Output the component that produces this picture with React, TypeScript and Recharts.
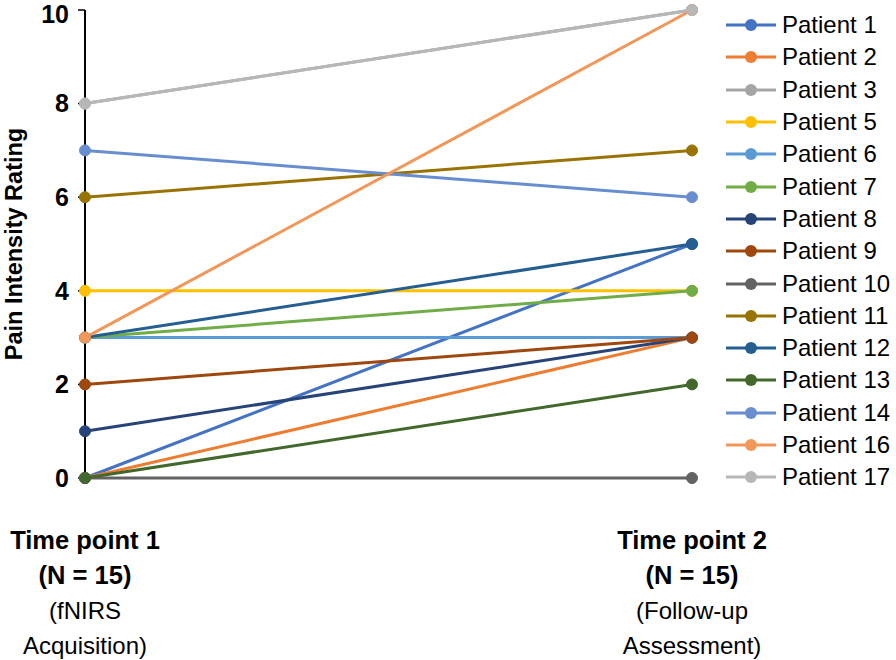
import { Label, Legend, Line, LineChart, XAxis, YAxis } from "recharts";

const timePoints = ["Time point 1", "Time point 2"];
const timeLabels = [
  ["Time point 1", "(N = 15)", "(fNIRS", "Acquisition)"],
  ["Time point 2", "(N = 15)", "(Follow-up", "Assessment)"],
];
const patients = [
  "Patient 1", "Patient 2", "Patient 3", "Patient 5", "Patient 6",
  "Patient 7", "Patient 8", "Patient 9", "Patient 10", "Patient 11",
  "Patient 12", "Patient 13", "Patient 14", "Patient 16", "Patient 17",
];
const timePoint1 = [0, 0, 8, 4, 3, 3, 1, 2, 0, 6, 3, 0, 7, 3, 8];
const timePoint2 = [5, 3, 10, 4, 3, 4, 3, 3, 0, 7, 5, 2, 6, 10, 10];
const yTicks = [0, 2, 4, 6, 8, 10];

const colors = [
  "#4472C4", "#ED7D31", "#A5A5A5", "#FFC000", "#5B9BD5",
  "#70AD47", "#264478", "#9E480E", "#636363", "#997300",
  "#255E91", "#43682B", "#698ED0", "#F1975A", "#B7B7B7",
];

const FONT = "'Liberation Sans', Arial, sans-serif";

// one row per time point, one key per patient
const data = timePoints.map((t, i) => {
  const row: Record<string, string | number> = { time: t };
  const vals = i === 0 ? timePoint1 : timePoint2;
  patients.forEach((p, j) => {
    row[p] = vals[j];
  });
  return row;
});

const TimeTick = (props: any) => {
  const { x, y, payload } = props;
  const lines = timeLabels[payload.index] || [payload.value];
  return (
    <text x={x} y={y + 71} textAnchor="middle" fontSize={25} fill="#000" fontFamily={FONT}>
      {lines.map((l, i) => (
        <tspan
          key={i}
          x={x}
          dy={i === 0 ? 0 : 35}
          fontWeight={i < 2 ? "bold" : "normal"}
          fontSize={i < 2 ? 25.5 : 24}
        >
          {l}
        </tspan>
      ))}
    </text>
  );
};

// legend keeps the series order (recharts would sort by name)
const PatientLegend = () => (
  <div style={{ fontFamily: FONT }}>
    {patients.map((p, i) => (
      <div
        key={p}
        style={{ display: "flex", alignItems: "center", height: 32.3, whiteSpace: "nowrap" }}
      >
        <svg width={54} height={20} style={{ marginRight: 4 }}>
          <line x1={2} y1={10} x2={52} y2={10} stroke={colors[i]} strokeWidth={3} />
          <circle cx={27} cy={10} r={6} fill={colors[i]} />
        </svg>
        <span style={{ fontSize: 24, color: "#000", lineHeight: "24px" }}>{p}</span>
      </div>
    ))}
  </div>
);

export default function App() {
  return (
    <div style={{ position: "absolute", left: 0, top: 0, background: "#fff", fontFamily: FONT }}>
      <LineChart
        width={896}
        height={660}
        data={data}
        margin={{ top: 10, right: 204, left: 0, bottom: 7 }}
      >
        <XAxis
          dataKey="time"
          axisLine={false}
          tickLine={false}
          tickSize={0}
          tickMargin={0}
          height={175}
          interval={0}
          tick={<TimeTick />}
        />
        <YAxis
          width={85}
          domain={[0, 10]}
          ticks={yTicks}
          axisLine={{ stroke: "#000", strokeWidth: 2 }}
          tickLine={{ stroke: "#000", strokeWidth: 1.5 }}
          tickSize={7}
          tickMargin={9}
          tick={{ fill: "#000", fontSize: 25, fontWeight: "bold", fontFamily: FONT }}
        >
          <Label
            content={(p: any) => {
              const vb = p.viewBox || {};
              const cx = 14;
              const cy = vb.y + vb.height / 2;
              return (
                <text
                  x={cx}
                  y={cy}
                  transform={`rotate(-90, ${cx}, ${cy})`}
                  textAnchor="middle"
                  dominantBaseline="central"
                  fontSize={23.5}
                  fontWeight="bold"
                  fontFamily={FONT}
                  fill="#000"
                >
                  Pain Intensity Rating
                </text>
              );
            }}
          />
        </YAxis>
        <Legend
          layout="vertical"
          align="center"
          verticalAlign="middle"
          content={<PatientLegend />}
          wrapperStyle={{ left: 724, top: 9, width: 172, height: "auto" }}
        />
        {patients.map((p, i) => (
          <Line
            key={p}
            dataKey={p}
            name={p}
            type="linear"
            stroke={colors[i]}
            strokeWidth={3}
            dot={{ r: 5.5, fill: colors[i], stroke: colors[i], strokeWidth: 1 }}
            activeDot={false}
            isAnimationActive={false}
          />
        ))}
      </LineChart>
    </div>
  );
}
